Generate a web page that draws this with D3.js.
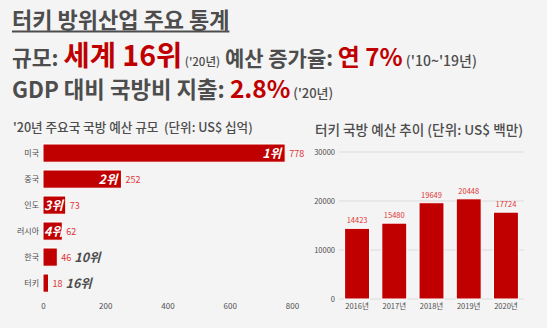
<!DOCTYPE html>
<html>
<head>
<meta charset="utf-8">
<script src="https://cdn.jsdelivr.net/npm/d3@7"></script>
<style>
  html, body { margin: 0; padding: 0; background: #f4f4f4; }
  svg { display: block; font-family: "Noto Sans CJK KR", "Noto Sans", sans-serif; }
</style>
</head>
<body>
<svg id="chart" width="547" height="328"></svg>
<script>
// Major countries' 2020 defence budget (US$ billion) and world rank
const countries = ["미국", "중국", "인도", "러시아", "한국", "터키"];
const budgets = [778, 252, 73, 62, 46, 18];
const ranks = ["1위", "2위", "3위", "4위", "10위", "16위"];
const budgetTicks = [0, 200, 400, 600, 800];

// Turkey's defence budget by year (US$ million)
const years = ["2016년", "2017년", "2018년", "2019년", "2020년"];
const turkeyBudget = [14423, 15480, 19649, 20448, 17724];
const trendTicks = [0, 10000, 20000, 30000];

const RED = "#c00000";
const LABEL_RED = "#e03535";
const DARK = "#4d4d4d";

const svg = d3.select("#chart");
svg.append("rect").attr("width", 547).attr("height", 328).attr("fill", "#f4f4f4");

// ---- headline block ----
const title = svg.append("text")
  .attr("x", 12).attr("y", 28)
  .attr("font-size", 22).attr("font-weight", 700).attr("fill", DARK)
  .text("터키 방위산업 주요 통계");
const titleLen = title.node().getComputedTextLength();
svg.append("line")
  .attr("x1", 12).attr("x2", 12 + titleLen)
  .attr("y1", 31.5).attr("y2", 31.5)
  .attr("stroke", DARK).attr("stroke-width", 2);

function richLine(y, parts) {
  const t = svg.append("text").attr("x", 12).attr("y", y).attr("font-weight", 700)
    .attr("xml:space", "preserve");
  parts.forEach(p => {
    t.append("tspan")
      .attr("font-size", p.size)
      .attr("fill", p.color)
      .attr("font-weight", p.weight || 700)
      .text(p.text);
  });
}
richLine(65.5, [
  { text: "규모: ", size: 21.5, color: DARK },
  { text: "세계 16위", size: 28.5, color: RED },
  { text: " ('20년)", size: 11.5, color: DARK, weight: 500 },
  { text: " 예산 증가율: ", size: 21, color: DARK },
  { text: "연 7%", size: 24, color: RED },
  { text: " ('10~'19년)", size: 14, color: DARK, weight: 500 }
]);
richLine(98, [
  { text: "GDP 대비 국방비 지출: ", size: 22.3, color: DARK },
  { text: "2.8%", size: 24.5, color: RED },
  { text: " ('20년)", size: 13, color: DARK, weight: 500 }
]);

// ---- left: horizontal bar chart ----
const left = svg.append("g");
left.append("text")
  .attr("x", 13).attr("y", 131.5)
  .attr("font-size", 12.6).attr("font-weight", 500).attr("fill", DARK)
  .attr("xml:space", "preserve")
  .text("'20년 주요국 국방 예산 규모  (단위: US$ 십억)");

const xB = d3.scaleLinear().domain([0, 800]).range([43, 292]);
const yB = d3.scaleBand().domain(countries).range([140.1, 296.1])
  .paddingInner(0.3).paddingOuter(0.15);

const xAxis = left.append("g")
  .attr("transform", "translate(0,296)")
  .call(d3.axisBottom(xB).tickValues(budgetTicks).tickSize(0).tickPadding(7));
xAxis.select(".domain").remove();
xAxis.selectAll("text").attr("font-size", 8).attr("fill", DARK)
  .attr("font-family", "'Noto Sans CJK KR', sans-serif");

const yAxis = left.append("g")
  .attr("transform", "translate(43,0)")
  .call(d3.axisLeft(yB).tickSize(0).tickPadding(4));
yAxis.select(".domain").remove();
yAxis.selectAll("text").attr("font-size", 8).attr("fill", DARK)
  .attr("font-family", "'Noto Sans CJK KR', sans-serif");

const rows = countries.map((c, i) => ({ c, v: budgets[i], r: ranks[i], inside: i < 4 }));

left.selectAll("rect.bar").data(rows).join("rect")
  .attr("class", "bar")
  .attr("x", xB(0))
  .attr("y", d => yB(d.c))
  .attr("width", d => xB(d.v) - xB(0))
  .attr("height", yB.bandwidth())
  .attr("fill", RED)
  .attr("stroke", "#ffffff").attr("stroke-width", 1);

// value labels just past each bar end
const valLabels = left.selectAll("text.val").data(rows).join("text")
  .attr("class", "val")
  .attr("x", d => xB(d.v) + 4)
  .attr("y", d => yB(d.c) + yB.bandwidth() / 2 + 3.5)
  .attr("font-size", 9).attr("fill", LABEL_RED)
  .text(d => d.v);

// rank labels: white inside the bar for top ranks, dark after the value otherwise
const rankLabels = left.selectAll("text.rank").data(rows).join("text")
  .attr("class", "rank")
  .attr("y", d => yB(d.c) + yB.bandwidth() / 2 + 5)
  .attr("font-size", 12.5).attr("font-weight", 700).attr("font-style", "italic")
  .attr("fill", d => d.inside ? "#ffffff" : DARK)
  .text(d => d.r);
rankLabels.attr("x", function (d, i) {
  const w = this.getComputedTextLength();
  if (d.inside) return Math.max(xB(0) + 1, xB(d.v) - 4 - w);
  return xB(d.v) + 4 + valLabels.nodes()[i].getComputedTextLength() + 3;
});

// ---- right: vertical bar chart ----
const right = svg.append("g");
right.append("text")
  .attr("x", 315).attr("y", 135)
  .attr("font-size", 13.6).attr("font-weight", 500).attr("fill", DARK)
  .text("터키 국방 예산 추이 (단위: US$ 백만)");

const xT = d3.scaleBand().domain(years).range([339, 524])
  .paddingInner(0.33).paddingOuter(0.15);
const yT = d3.scaleLinear().domain([0, 30000]).range([299, 152]);

right.append("g").selectAll("line").data(trendTicks).join("line")
  .attr("x1", 339).attr("x2", 524)
  .attr("y1", d => yT(d)).attr("y2", d => yT(d))
  .attr("stroke", "#dcdcdc").attr("stroke-width", 1);

const yAxisT = right.append("g")
  .attr("transform", "translate(339,0)")
  .call(d3.axisLeft(yT).tickValues(trendTicks).tickFormat(d3.format("d")).tickSize(0).tickPadding(4));
yAxisT.select(".domain").remove();
yAxisT.selectAll("text").attr("font-size", 7.5).attr("fill", DARK)
  .attr("font-family", "'Noto Sans CJK KR', sans-serif");

const xAxisT = right.append("g")
  .attr("transform", "translate(0,299)")
  .call(d3.axisBottom(xT).tickSize(0).tickPadding(5));
xAxisT.select(".domain").remove();
xAxisT.selectAll("text").attr("font-size", 7.5).attr("fill", DARK)
  .attr("font-family", "'Noto Sans CJK KR', sans-serif");

const trend = years.map((y, i) => ({ y, v: turkeyBudget[i] }));
right.selectAll("rect.tbar").data(trend).join("rect")
  .attr("class", "tbar")
  .attr("x", d => xT(d.y))
  .attr("y", d => yT(d.v))
  .attr("width", xT.bandwidth())
  .attr("height", d => yT(0) - yT(d.v))
  .attr("fill", RED)
  .attr("stroke", "#ffffff").attr("stroke-width", 1);

right.selectAll("text.tval").data(trend).join("text")
  .attr("class", "tval")
  .attr("x", d => xT(d.y) + xT.bandwidth() / 2)
  .attr("y", d => yT(d.v) - 5)
  .attr("text-anchor", "middle")
  .attr("font-size", 7.5).attr("fill", LABEL_RED)
  .text(d => d.v);
</script>
</body>
</html>
